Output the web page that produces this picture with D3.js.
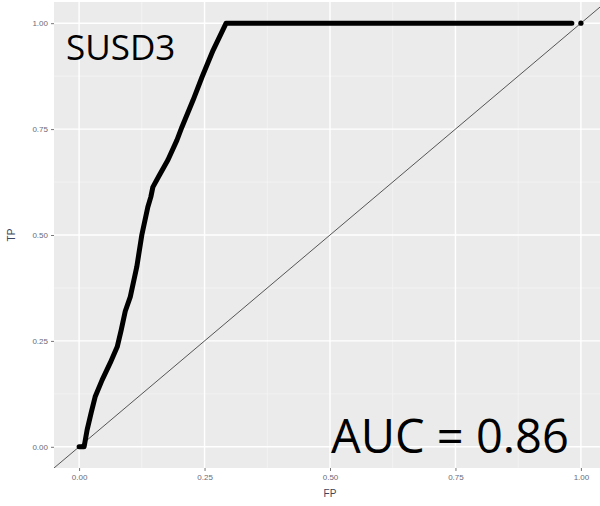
<!DOCTYPE html>
<html>
<head>
<meta charset="utf-8">
<script src="https://cdn.jsdelivr.net/npm/d3@7"></script>
<style>
  html, body { margin: 0; padding: 0; background: #fff; }
  svg { display: block; }
</style>
</head>
<body>
<svg id="chart" width="600" height="506"></svg>
<script>
// ---- data ----
const rocFP = [0, 0.010, 0.016, 0.024, 0.032, 0.046, 0.062, 0.076, 0.084, 0.092, 0.102, 0.115, 0.125, 0.137, 0.143, 0.147, 0.158, 0.177, 0.195, 0.205, 0.227, 0.245, 0.267, 0.293, 0.982];
const rocTP = [0, 0, 0.04, 0.08, 0.118, 0.158, 0.198, 0.236, 0.276, 0.32, 0.354, 0.425, 0.5, 0.566, 0.59, 0.613, 0.637, 0.677, 0.724, 0.755, 0.818, 0.873, 0.936, 1, 1];
const endFP = [1.0];
const endTP = [1.0];
const tickValues = [0, 0.25, 0.5, 0.75, 1.0];
const tickLabels = ["0.00", "0.25", "0.50", "0.75", "1.00"];
const minorValues = [0.125, 0.375, 0.625, 0.875];
const titleLabel = "SUSD3";
const aucLabel = "AUC = 0.86";
const xTitle = "FP";
const yTitle = "TP";

// ---- layout ----
const svg = d3.select("#chart");
const panel = { left: 54, right: 606, top: 2, bottom: 468 };

const x = d3.scaleLinear().domain([-0.05, 1.05]).range([panel.left, panel.right]);
const y = d3.scaleLinear().domain([-0.05, 1.05]).range([panel.bottom, panel.top]);

svg.append("defs").append("clipPath").attr("id", "pclip")
  .append("rect").attr("x", panel.left).attr("y", panel.top)
  .attr("width", panel.right - panel.left).attr("height", panel.bottom - panel.top);

// panel background
svg.append("rect")
  .attr("x", panel.left).attr("y", panel.top)
  .attr("width", panel.right - panel.left).attr("height", panel.bottom - panel.top)
  .attr("fill", "#ebebeb");

const grid = svg.append("g").attr("clip-path", "url(#pclip)");
// minor grid
grid.selectAll(".mx").data(minorValues).enter().append("line")
  .attr("x1", d => x(d)).attr("x2", d => x(d))
  .attr("y1", panel.top).attr("y2", panel.bottom)
  .attr("stroke", "#f5f5f5").attr("stroke-width", 0.8);
grid.selectAll(".my").data(minorValues).enter().append("line")
  .attr("y1", d => y(d)).attr("y2", d => y(d))
  .attr("x1", panel.left).attr("x2", panel.right)
  .attr("stroke", "#f5f5f5").attr("stroke-width", 0.8);
// major grid
grid.selectAll(".gx").data(tickValues).enter().append("line")
  .attr("x1", d => x(d)).attr("x2", d => x(d))
  .attr("y1", panel.top).attr("y2", panel.bottom)
  .attr("stroke", "#ffffff").attr("stroke-width", 1.4);
grid.selectAll(".gy").data(tickValues).enter().append("line")
  .attr("y1", d => y(d)).attr("y2", d => y(d))
  .attr("x1", panel.left).attr("x2", panel.right)
  .attr("stroke", "#ffffff").attr("stroke-width", 1.4);

// axes
const fmt = (d) => tickLabels[tickValues.indexOf(d)];
const xAxis = d3.axisBottom(x).tickValues(tickValues).tickFormat(fmt).tickSize(3).tickPadding(3);
const yAxis = d3.axisLeft(y).tickValues(tickValues).tickFormat(fmt).tickSize(3).tickPadding(3);

const gx = svg.append("g").attr("transform", `translate(0,${panel.bottom})`).call(xAxis);
const gy = svg.append("g").attr("transform", `translate(${panel.left},0)`).call(yAxis);
[gx, gy].forEach(g => {
  g.select(".domain").remove();
  g.selectAll(".tick line").attr("stroke", "#555").attr("stroke-width", 0.8);
  g.selectAll(".tick text")
    .attr("fill", "#6a6a78")
    .style("font-family", "'Liberation Sans', Arial, sans-serif")
    .style("font-size", "8px");
});

// axis titles
svg.append("text")
  .attr("x", (x(0) + x(1)) / 2).attr("y", 497)
  .attr("text-anchor", "middle")
  .attr("fill", "#3c4660")
  .style("font-family", "'Liberation Sans', Arial, sans-serif")
  .style("font-size", "10px")
  .text(xTitle);
svg.append("text")
  .attr("transform", `translate(15,${(y(0) + y(1)) / 2}) rotate(-90)`)
  .attr("text-anchor", "middle")
  .attr("fill", "#3c4660")
  .style("font-family", "'Liberation Sans', Arial, sans-serif")
  .style("font-size", "10px")
  .text(yTitle);

const plot = svg.append("g").attr("clip-path", "url(#pclip)");

// diagonal reference line (slope 1, intercept 0)
plot.append("line")
  .attr("x1", x(-0.05)).attr("y1", y(-0.05))
  .attr("x2", x(1.05)).attr("y2", y(1.05))
  .attr("stroke", "#444").attr("stroke-width", 0.9);

// ROC curve
const pts = rocFP.map((d, i) => [d, rocTP[i]]);
plot.append("path")
  .datum(pts)
  .attr("d", d3.line().x(d => x(d[0])).y(d => y(d[1])))
  .attr("fill", "none")
  .attr("stroke", "#000")
  .attr("stroke-width", 5)
  .attr("stroke-linejoin", "round")
  .attr("stroke-linecap", "round");

plot.selectAll(".endpt").data(endFP.map((d, i) => [d, endTP[i]])).enter().append("circle")
  .attr("cx", d => x(d[0])).attr("cy", d => y(d[1]))
  .attr("r", 2.6).attr("fill", "#000");

// annotations
svg.append("text")
  .attr("x", 66).attr("y", 60)
  .attr("fill", "#000")
  .style("font-family", "'Open Sans', sans-serif")
  .style("font-size", "35px")
  .text(titleLabel);
svg.append("text")
  .attr("x", 331).attr("y", 453)
  .attr("fill", "#000")
  .style("font-family", "'Open Sans', sans-serif")
  .style("font-size", "47px")
  .text(aucLabel);
</script>
</body>
</html>
